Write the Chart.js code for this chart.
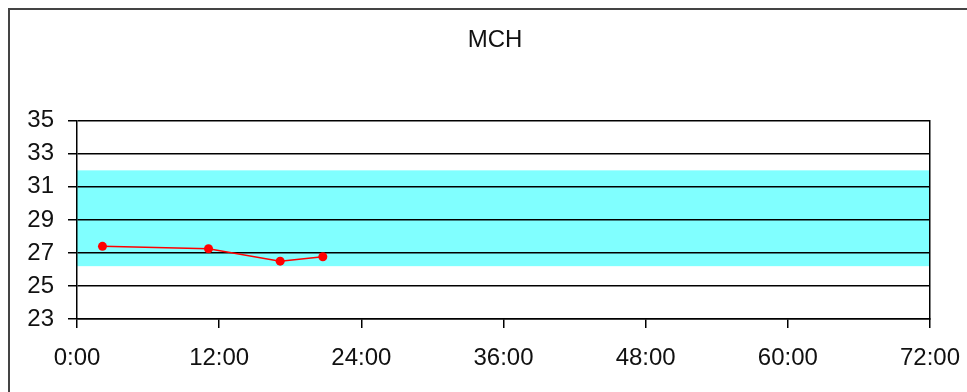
<!DOCTYPE html>
<html>
<head>
<meta charset="utf-8">
<script src="https://cdn.jsdelivr.net/npm/chart.js@4"></script>
<style>
  html, body { margin: 0; padding: 0; background: #fff; }
  #wrap { position: relative; width: 967px; height: 392px; overflow: hidden; }
  #frame { position: absolute; left: 8px; top: 8px; width: 1000px; height: 1000px;
           border-left: 2px solid #444; border-top: 2px solid #444; box-sizing: border-box; }
  canvas { position: absolute; left: 0; top: 0; }
</style>
</head>
<body>
<div id="wrap">
  <canvas id="c" width="967" height="392"></canvas>
  <div id="frame"></div>
</div>
<script>
const chartTitle = 'MCH';
const timesHours = [2.15, 11.1, 17.15, 20.75];
const mchValues = [27.4, 27.25, 26.5, 26.77];
const xTicksHours = [0, 12, 24, 36, 48, 60, 72];
const yTicks = [23, 25, 27, 29, 31, 33, 35];
const refLow = 26.2;
const refHigh = 32;

const bandPlugin = {
  id: 'refBand',
  beforeDraw(chart) {
    const { ctx, chartArea, scales } = chart;
    const yTop = scales.y.getPixelForValue(refHigh);
    const yBot = scales.y.getPixelForValue(refLow);
    ctx.save();
    ctx.fillStyle = '#80FFFF';
    ctx.fillRect(chartArea.left, yTop, chartArea.right - chartArea.left, yBot - yTop);
    ctx.restore();
  }
};

const font = { family: "'Liberation Sans', Arial, sans-serif", size: 24 };

new Chart(document.getElementById('c'), {
  type: 'line',
  data: {
    datasets: [{
      data: timesHours.map((t, i) => ({ x: t, y: mchValues[i] })),
      borderColor: '#FF0000',
      backgroundColor: '#FF0000',
      borderWidth: 1.5,
      pointRadius: 4.5,
      pointBorderWidth: 0,
      tension: 0,
      fill: false
    }]
  },
  options: {
    responsive: false,
    animation: false,
    layout: { padding: { left: 23, right: 0, top: 0, bottom: 0 } },
    plugins: {
      legend: { display: false },
      tooltip: { enabled: false },
      title: {
        display: true,
        text: chartTitle,
        color: '#111',
        font: { family: font.family, size: 24, weight: 'normal' },
        padding: { top: 26, bottom: 66 }
      }
    },
    scales: {
      x: {
        type: 'linear',
        min: xTicksHours[0],
        max: xTicksHours[xTicksHours.length - 1],
        afterBuildTicks(scale) { scale.ticks = xTicksHours.map(v => ({ value: v })); },
        afterFit(scale) { scale.height = 73; scale.paddingLeft = 0; scale.paddingRight = 0; },
        ticks: {
          color: '#111',
          font: font,
          padding: 16,
          maxRotation: 0,
          autoSkip: false,
          callback: v => v + ':00'
        },
        grid: { drawOnChartArea: false, drawTicks: true, tickLength: 9, color: '#000', lineWidth: 1.5 },
        border: { display: true, color: '#000', width: 1.5 }
      },
      y: {
        type: 'linear',
        min: yTicks[0],
        max: yTicks[yTicks.length - 1],
        afterBuildTicks(scale) { scale.ticks = yTicks.map(v => ({ value: v })); },
        afterFit(scale) { scale.width = 54; scale.paddingTop = 0; scale.paddingBottom = 0; },
        ticks: { color: '#111', font: font, padding: 14 },
        grid: { color: '#000', lineWidth: 1.5, tickLength: 9, drawTicks: true },
        border: { display: true, color: '#000', width: 1.5 }
      },
      y2: {
        type: 'linear',
        position: 'right',
        min: yTicks[0],
        max: yTicks[yTicks.length - 1],
        afterFit(scale) { scale.width = 37; },
        ticks: { display: false },
        grid: { drawOnChartArea: false, drawTicks: false },
        border: { display: true, color: '#000', width: 1.5 }
      }
    }
  },
  plugins: [bandPlugin]
});
</script>
</body>
</html>
